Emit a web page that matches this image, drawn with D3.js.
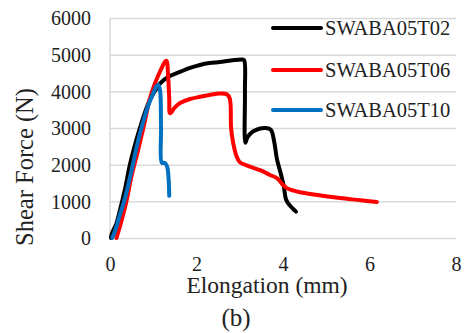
<!DOCTYPE html>
<html>
<head>
<meta charset="utf-8">
<script src="https://cdn.jsdelivr.net/npm/d3@7"></script>
<style>
  body { margin: 0; background: #fff; }
  svg text { font-family: "Liberation Serif", "Times New Roman", serif; fill: #222; }
</style>
</head>
<body>
<div id="chart"></div>
<script>
// Series names (legend)
var seriesNames = ["SWABA05T02", "SWABA05T06", "SWABA05T10"];

// SWABA05T02 (black)
var elongT02 = [0.02, 0.05, 0.15, 0.23, 0.35, 0.46, 0.58, 0.7, 0.8, 0.92, 1.05, 1.16, 1.35, 1.62, 1.85, 2.08, 2.3, 2.54, 2.8, 3.05, 3.1, 3.12, 3.13, 3.18, 3.3, 3.45, 3.6, 3.72, 3.8, 3.86, 3.95, 4.02, 4.07, 4.15, 4.3];
var forceT02 = [0, 140, 400, 760, 1350, 2000, 2550, 3030, 3400, 3760, 4030, 4220, 4400, 4530, 4640, 4720, 4770, 4800, 4840, 4870, 4850, 4000, 2600, 2750, 2900, 2980, 3000, 2950, 2600, 2150, 1750, 1400, 1050, 900, 720];

// SWABA05T06 (red)
var elongT06 = [0.15, 0.25, 0.38, 0.5, 0.65, 0.8, 0.92, 1.05, 1.18, 1.28, 1.31, 1.34, 1.37, 1.39, 1.5, 1.62, 1.85, 2.08, 2.3, 2.54, 2.7, 2.77, 2.8, 2.85, 2.92, 3.0, 3.2, 3.47, 3.7, 3.86, 4.0, 4.09, 4.25, 4.39, 4.8, 5.32, 5.8, 6.17];
var forceT06 = [0, 400, 1000, 1700, 2400, 3150, 3800, 4250, 4600, 4820, 4830, 4500, 3800, 3400, 3560, 3680, 3790, 3850, 3900, 3940, 3920, 3800, 3000, 2580, 2250, 2070, 1960, 1850, 1720, 1630, 1450, 1360, 1290, 1250, 1170, 1090, 1030, 980];

// SWABA05T10 (blue)
var elongT10 = [0.05, 0.12, 0.22, 0.35, 0.5, 0.62, 0.75, 0.88, 1.0, 1.08, 1.12, 1.16, 1.18, 1.2, 1.26, 1.32, 1.35, 1.37];
var forceT10 = [0, 200, 600, 1100, 1850, 2500, 3100, 3600, 3950, 4150, 4170, 4000, 3000, 2050, 2050, 1950, 1700, 1150];

var xTicks = [0, 2, 4, 6, 8];
var yTicks = [0, 1000, 2000, 3000, 4000, 5000, 6000];
var colors = ["#000000", "#ff0000", "#0070c0"];

var W = 468, H = 333;
var margin = {left: 110, top: 18, right: 12, bottom: 95};
var pw = W - margin.left - margin.right;
var ph = H - margin.top - margin.bottom;

var svg = d3.select("#chart").append("svg")
    .attr("width", W).attr("height", H)
    .style("background", "#fff");

var g = svg.append("g")
    .attr("transform", "translate(" + margin.left + "," + margin.top + ")");

var x = d3.scaleLinear().domain([0, 8]).range([0, pw]);
var y = d3.scaleLinear().domain([0, 6000]).range([ph, 0]);

// Y axis with gridlines
var yAxis = g.append("g")
    .attr("class", "y axis")
    .call(d3.axisLeft(y).tickValues(yTicks).tickFormat(d3.format("d"))
        .tickSizeInner(-pw).tickSizeOuter(0).tickPadding(19))
    .attr("font-family", null).attr("font-size", null);
yAxis.select(".domain").remove();
yAxis.selectAll("line").attr("stroke", "#d9d9d9").attr("stroke-width", 1.5);
yAxis.selectAll("text").style("font-size", "20px").attr("dy", "0.34em");

// left border line
g.append("line")
    .attr("x1", 0).attr("x2", 0)
    .attr("y1", 0).attr("y2", ph)
    .attr("stroke", "#d9d9d9").attr("stroke-width", 1.5);

// X axis
var xAxis = g.append("g")
    .attr("class", "x axis")
    .attr("transform", "translate(0," + ph + ")")
    .call(d3.axisBottom(x).tickValues(xTicks).tickSize(0).tickPadding(19))
    .attr("font-family", null).attr("font-size", null);
xAxis.select(".domain").remove();
xAxis.selectAll("text").style("font-size", "20px");

// Curves
var series = [
    {x: elongT02, y: forceT02},
    {x: elongT06, y: forceT06},
    {x: elongT10, y: forceT10}
];

var line = d3.line()
    .x(function (d) { return x(d[0]); })
    .y(function (d) { return y(d[1]); })
    .curve(d3.curveCatmullRom.alpha(0.5));

series.forEach(function (s, i) {
    g.append("path")
        .datum(d3.zip(s.x, s.y))
        .attr("d", line)
        .attr("fill", "none")
        .attr("stroke", colors[i])
        .attr("stroke-width", 4)
        .attr("stroke-linejoin", "round")
        .attr("stroke-linecap", "round");
});

// Legend
var legend = svg.append("g").attr("class", "legend");
var legendY = [28, 70, 110];
seriesNames.forEach(function (name, i) {
    legend.append("line")
        .attr("x1", 273).attr("x2", 321)
        .attr("y1", legendY[i]).attr("y2", legendY[i])
        .attr("stroke", colors[i])
        .attr("stroke-width", 4)
        .attr("stroke-linecap", "round");
    legend.append("text")
        .attr("x", 325)
        .attr("y", legendY[i] + 7)
        .style("font-size", "20.5px")
        .text(name);
});

// Axis titles
svg.append("text")
    .attr("x", 267).attr("y", 293)
    .attr("text-anchor", "middle")
    .style("font-size", "23.5px")
    .text("Elongation (mm)");

svg.append("text")
    .attr("transform", "translate(33,167) rotate(-90)")
    .attr("text-anchor", "middle")
    .style("font-size", "24.5px")
    .text("Shear Force (N)");

svg.append("text")
    .attr("x", 236).attr("y", 326)
    .attr("text-anchor", "middle")
    .style("font-size", "25px")
    .text("(b)");
</script>
</body>
</html>
